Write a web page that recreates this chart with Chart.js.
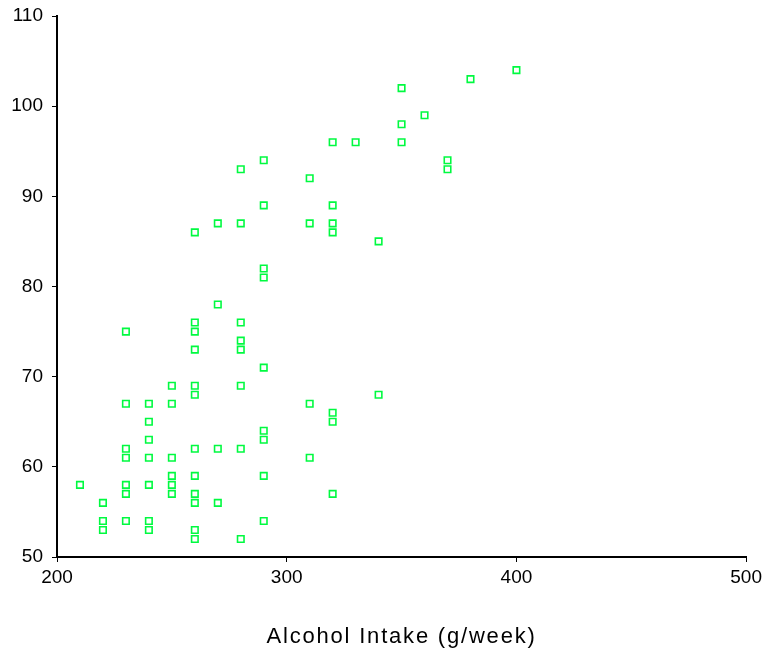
<!DOCTYPE html>
<html>
<head>
<meta charset="utf-8">
<script src="https://cdn.jsdelivr.net/npm/chart.js@4"></script>
<style>
  html, body { margin: 0; padding: 0; background: #ffffff; }
  #wrap { width: 766px; height: 651px; position: relative; }
</style>
</head>
<body>
<div id="wrap"><canvas id="chart"></canvas></div>
<script>
// Alcohol intake (g/week) for each subject
const intake = [
  210,
  220, 220, 220,
  230, 230, 230, 230, 230, 230, 230,
  240, 240, 240, 240, 240, 240, 240,
  250, 250, 250, 250, 250, 250,
  260, 260, 260, 260, 260, 260, 260, 260, 260, 260, 260, 260,
  270, 270, 270, 270,
  280, 280, 280, 280, 280, 280, 280, 280,
  290, 290, 290, 290, 290, 290, 290, 290, 290,
  310, 310, 310, 310,
  320, 320, 320, 320, 320, 320, 320,
  330,
  340, 340,
  350, 350, 350,
  360,
  370, 370,
  380,
  400
];

// Matching response value for each subject
const response = [
  58,
  56, 54, 53,
  75, 67, 62, 61, 58, 57, 54,
  67, 65, 63, 61, 58, 54, 53,
  69, 67, 61, 59, 58, 57,
  86, 76, 75, 73, 69, 68, 62, 59, 57, 56, 53, 52,
  87, 78, 62, 56,
  93, 87, 76, 74, 73, 69, 62, 52,
  94, 89, 82, 81, 71, 64, 63, 59, 54,
  92, 87, 67, 61,
  96, 89, 87, 86, 66, 65, 57,
  96,
  85, 68,
  102, 98, 96,
  99,
  94, 93,
  103,
  104
];

// Axis tick values
const xTicks = [200, 300, 400, 500];
const yTicks = [50, 60, 70, 80, 90, 100, 110];
const xTitle = 'Alcohol Intake (g/week)';

const points = intake.map((x, i) => ({ x: x, y: response[i] }));

// Spreads the letters of the x-axis title a little
const spacedTitle = {
  id: 'spacedTitle',
  afterLayout(chart) {
    const s = chart.scales.x;
    if (s && !s.__spaced) {
      const orig = s.drawTitle.bind(s);
      s.drawTitle = function () {
        const ctx = chart.ctx;
        ctx.save();
        ctx.letterSpacing = '1.8px';
        orig();
        ctx.restore();
      };
      s.__spaced = true;
    }
  }
};

const tickFont = { family: '"Liberation Sans", Arial, sans-serif', size: 19 };

new Chart(document.getElementById('chart'), {
  type: 'scatter',
  data: {
    datasets: [{
      data: points,
      pointStyle: 'rect',
      pointRadius: 4.6,
      pointHoverRadius: 4.6,
      borderWidth: 1.6,
      borderColor: 'rgb(0,250,64)',
      backgroundColor: 'rgba(255,255,255,0)'
    }]
  },
  options: {
    responsive: true,
    maintainAspectRatio: false,
    animation: false,
    events: [],
    layout: { padding: { top: 16, right: 17, left: 0, bottom: 0 } },
    plugins: {
      legend: { display: false },
      tooltip: { enabled: false }
    },
    scales: {
      x: {
        type: 'linear',
        min: xTicks[0],
        max: xTicks[xTicks.length - 1],
        afterBuildTicks(scale) { scale.ticks = xTicks.map(v => ({ value: v })); },
        afterFit(scale) { scale.height = 94; },
        border: { display: true, color: '#000', width: 2 },
        grid: { drawOnChartArea: false, drawTicks: true, tickLength: 5, color: '#000', lineWidth: 1 },
        ticks: { color: '#000', font: tickFont, padding: 4, maxRotation: 0 },
        title: {
          display: true,
          text: xTitle,
          color: '#000',
          font: { family: '"Liberation Sans", Arial, sans-serif', size: 22 },
          padding: { top: 0, bottom: 1 }
        }
      },
      y: {
        type: 'linear',
        min: yTicks[0],
        max: yTicks[yTicks.length - 1],
        afterBuildTicks(scale) { scale.ticks = yTicks.map(v => ({ value: v })); },
        afterFit(scale) {
          scale.width = 57;
          scale.paddingTop = 0;
          scale.paddingBottom = 0;
        },
        border: { display: true, color: '#000', width: 2 },
        grid: { drawOnChartArea: false, drawTicks: true, tickLength: 5, color: '#000', lineWidth: 1 },
        ticks: { color: '#000', font: tickFont, padding: 9 }
      }
    }
  },
  plugins: [spacedTitle]
});
</script>
</body>
</html>
